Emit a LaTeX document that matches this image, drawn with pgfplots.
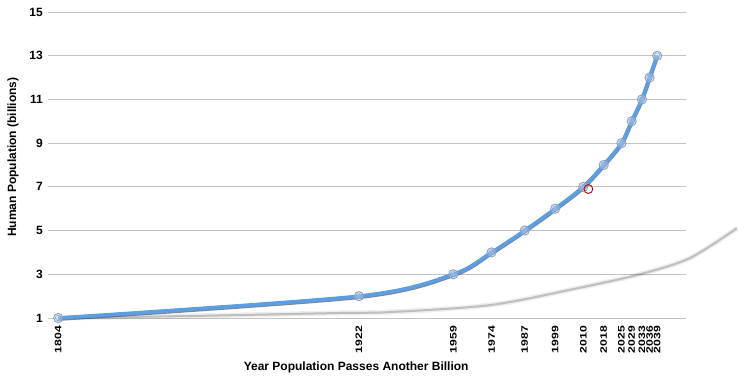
\documentclass[border=0pt]{standalone}
\usepackage{pgfplots}
\pgfplotsset{compat=1.18}
\usepackage{fontspec}
\setmainfont{Liberation Sans}
\definecolor{gridc}{RGB}{195,195,195}
\definecolor{lineblue}{RGB}{92,158,226}
\definecolor{shadeblue}{RGB}{60,85,120}
\definecolor{markc}{RGB}{135,160,195}
\begin{document}
\begin{tikzpicture}[x=1pt,y=1pt]
\useasboundingbox (-48,-60) rectangle (708,318);
\begin{axis}[
  at={(0,0)}, anchor=south west,
  scale only axis, width=638pt, height=306pt,
  xmin=1800, xmax=2050.3, ymin=1, ymax=15,
  clip=false,
  /pgf/number format/assume math mode=true,
  ytick={1,3,5,7,9,11,13,15},
  xtick={1804,1922,1959,1974,1987,1999,2010,2018,2025,2029,2033,2036,2039},
  xticklabels={1804,1922,1959,1974,1987,1999,2010,2018,2025,2029,2033,2036,2039},
  xticklabel style={rotate=90, anchor=east, inner sep=0pt, xshift=-8pt, yscale=0.77, font=\bfseries\fontsize{12.2}{12.2}\selectfont},
  yticklabel style={inner sep=0pt, xshift=-5pt, font=\bfseries\fontsize{12}{12}\selectfont},
  ymajorgrids, grid style={draw=gridc, line width=0.9pt},
  axis line style={draw=none},
  tick style={draw=none},
  xlabel={Year Population Passes Another Billion},
  ylabel={Human Population (billions)},
  xlabel style={at={(axis description cs:0.483,-0.162)}, anchor=center, font=\bfseries\fontsize{12}{12}\selectfont},
  ylabel style={at={(axis description cs:-0.055,0.526)}, anchor=center, font=\bfseries\fontsize{12}{12}\selectfont},
]
% soft gray shadow curve
\addplot[smooth, color=black, opacity=0.07, line width=5pt] coordinates {(1804,1.0) (1860,1.1) (1914.6,1.23) (1934,1.27) (1973.4,1.59) (2006,2.32) (2032.2,3.0) (2051.8,3.74) (2070.3,5.11)};
\addplot[smooth, color=black, opacity=0.2, line width=2pt] coordinates {(1804,1.0) (1860,1.1) (1914.6,1.23) (1934,1.27) (1973.4,1.59) (2006,2.32) (2032.2,3.0) (2051.8,3.74) (2070.3,5.11)};
% dark edge under blue line
\addplot[smooth, color=shadeblue, opacity=0.7, line width=4.2pt, yshift=-0.8pt] coordinates {(1804,1) (1922,2) (1959,3) (1974,4) (1987,5) (1999,6) (2010,7) (2018,8) (2025,9) (2029,10) (2033,11) (2036,12) (2039,13)};
% main blue line
\addplot[smooth, color=lineblue, line width=3.6pt] coordinates {(1804,1) (1922,2) (1959,3) (1974,4) (1987,5) (1999,6) (2010,7) (2018,8) (2025,9) (2029,10) (2033,11) (2036,12) (2039,13)};
% markers
\addplot[only marks, mark=*, mark size=4.6pt, mark options={draw=markc, fill=lineblue!40, fill opacity=0.45, line width=0.9pt}] coordinates {(1804,1) (1922,2) (1959,3) (1974,4) (1987,5) (1999,6) (2010,7) (2018,8) (2025,9) (2029,10) (2033,11) (2036,12) (2039,13)};
\addplot[only marks, mark=o, mark size=2.8pt, mark options={draw=markc, line width=0.5pt}] coordinates {(1804,1) (1922,2) (1959,3) (1974,4) (1987,5) (1999,6) (2010,7) (2018,8) (2025,9) (2029,10) (2033,11) (2036,12) (2039,13)};
% red highlighted point
\addplot[only marks, mark=o, mark size=4.4pt, mark options={draw=red!75!black, line width=0.9pt}] coordinates {(2012,6.9)};
\end{axis}
\end{tikzpicture}
\end{document}
